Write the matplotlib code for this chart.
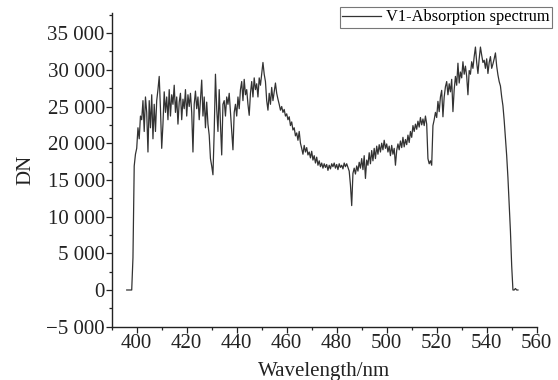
import numpy as np
import matplotlib
matplotlib.use("Agg")
import matplotlib.pyplot as plt
from matplotlib.ticker import MultipleLocator, FuncFormatter

start_wl = 396.0
step_wl = 0.5
dn = [
    0, 0, 0, 0, 0, 4400, 16900, 18500,
    19300, 22100, 20600, 23700, 23200, 25800, 21600, 26300, 24200, 18800,
    25800, 22100, 26600, 20600, 25300, 21600, 25800, 27300, 29100, 24700,
    19300, 22600, 27000, 24200, 26300, 23200, 27300, 23700, 26600, 25300,
    27900, 24200, 26300, 22600, 25600, 26800, 23200, 26000, 24700, 27300,
    23700, 26600, 25000, 26800, 24200, 18800, 25300, 27100, 24700, 26300,
    23200, 25800, 28600, 23700, 26300, 22100, 25600, 22600, 21100, 17900,
    16900, 15700, 21600, 29400, 24700, 21600, 27300, 22600, 18400, 25300,
    25800, 23700, 26300, 25300, 26800, 24200, 21600, 19100, 24200, 25300,
    23700, 26300, 24700, 27300, 28400, 25800, 28700, 26600, 27300, 25300,
    23800, 26800, 28400, 26300, 28900, 27300, 28100, 26300, 28900, 27900,
    29400, 31000, 29400, 28400, 25800, 24500, 26800, 25300, 27600, 25800,
    27000, 28200, 26800, 26000, 25300, 24500, 25000, 24200, 24600, 23700,
    24000, 23200, 23600, 22400, 22900, 21800, 22100, 21000, 21400, 20400,
    21600, 20000, 19300, 18500, 19700, 18800, 19400, 18400, 18800, 18000,
    18900, 17700, 18300, 17300, 18100, 17000, 17600, 16800, 17300, 16600,
    17200, 16700, 17100, 16300, 17000, 16500, 17200, 16800, 17300, 16600,
    17100, 16400, 17200, 16700, 17000, 16500, 17300, 16800, 17200, 16700,
    16200, 14300, 11500, 15900, 16600, 15800, 16900, 16200, 17400, 16600,
    17900, 16400, 18300, 15200, 17700, 17000, 18700, 17200, 19000, 17600,
    19300, 17900, 19600, 18500, 19800, 18800, 20000, 19100, 20400, 19300,
    19900, 18800, 19600, 18300, 19700, 18500, 19300, 17000, 19000, 19900,
    19100, 20300, 19400, 20800, 19500, 20500, 19800, 21100, 20100, 21600,
    20800, 22400, 21600, 22600, 21900, 23000, 22200, 23500, 22500, 23300,
    22400, 23700, 22600, 17900, 17200, 17600, 17000, 22400, 23200, 24200,
    23500, 25700, 24300, 26300, 27200, 23600, 26300, 27700, 28400, 26600,
    28100, 27000, 28700, 24300, 27300, 29100, 27900, 30900, 28200, 29700,
    28900, 31100, 29400, 30500, 29100, 26600, 29900, 29400, 31100, 30200,
    31800, 33100, 31000, 29500, 31500, 33100, 32000, 31000, 31300, 30200,
    31500, 29500, 31000, 31800, 30200, 30800, 31500, 32300, 30500, 29300,
    28400, 27800, 26300, 25100, 23100, 20600, 18300, 15300, 11700, 8000,
    3300, 0, 0, 200, 0, 0,
]
wavelength = start_wl + step_wl * np.arange(len(dn))

legend_label = "V1-Absorption spectrum"

plt.rcParams["font.family"] = ["Liberation Serif", "DejaVu Serif"]

fig = plt.figure(figsize=(5.58, 3.8), dpi=100)
ax = fig.add_axes([0.2002, 0.1403, 0.7616, 0.8247])

ax.plot(wavelength, dn, color="#333333", lw=0.9, label=legend_label)

ax.set_xlim(390, 560)
ax.set_ylim(-5000, 37700)
ax.xaxis.set_major_locator(MultipleLocator(20))
ax.xaxis.set_minor_locator(MultipleLocator(10))
ax.yaxis.set_major_locator(MultipleLocator(5000))
ax.yaxis.set_minor_locator(MultipleLocator(2500))


def fmt(v, pos):
    s = f"{abs(v):,.0f}".replace(",", " ")
    return ("\u2212" + s) if v < 0 else s


ax.yaxis.set_major_formatter(FuncFormatter(fmt))

for side in ["top", "right"]:
    ax.spines[side].set_visible(False)
for side in ["left", "bottom"]:
    ax.spines[side].set_linewidth(1.0)
    ax.spines[side].set_color("#222222")

ax.tick_params(which="major", direction="out", length=4, width=0.9,
               labelsize=15, colors="#222222", pad=1)
ax.tick_params(which="minor", direction="out", length=2.5, width=0.9,
               colors="#222222")

ax.set_xlabel("Wavelength/nm", fontsize=15, labelpad=7, color="#222222")
ax.set_ylabel("DN", fontsize=15, labelpad=8, color="#222222")

leg = ax.legend(loc="upper right", bbox_to_anchor=(0.99, 0.982),
                bbox_transform=fig.transFigure, fontsize=11.8,
                frameon=True, fancybox=False, borderpad=0.15,
                handlelength=2.4, handletextpad=0.3, borderaxespad=0)
leg.get_frame().set_edgecolor("#555555")
leg.get_frame().set_linewidth(0.8)

fig.savefig("out.png", dpi=100)
